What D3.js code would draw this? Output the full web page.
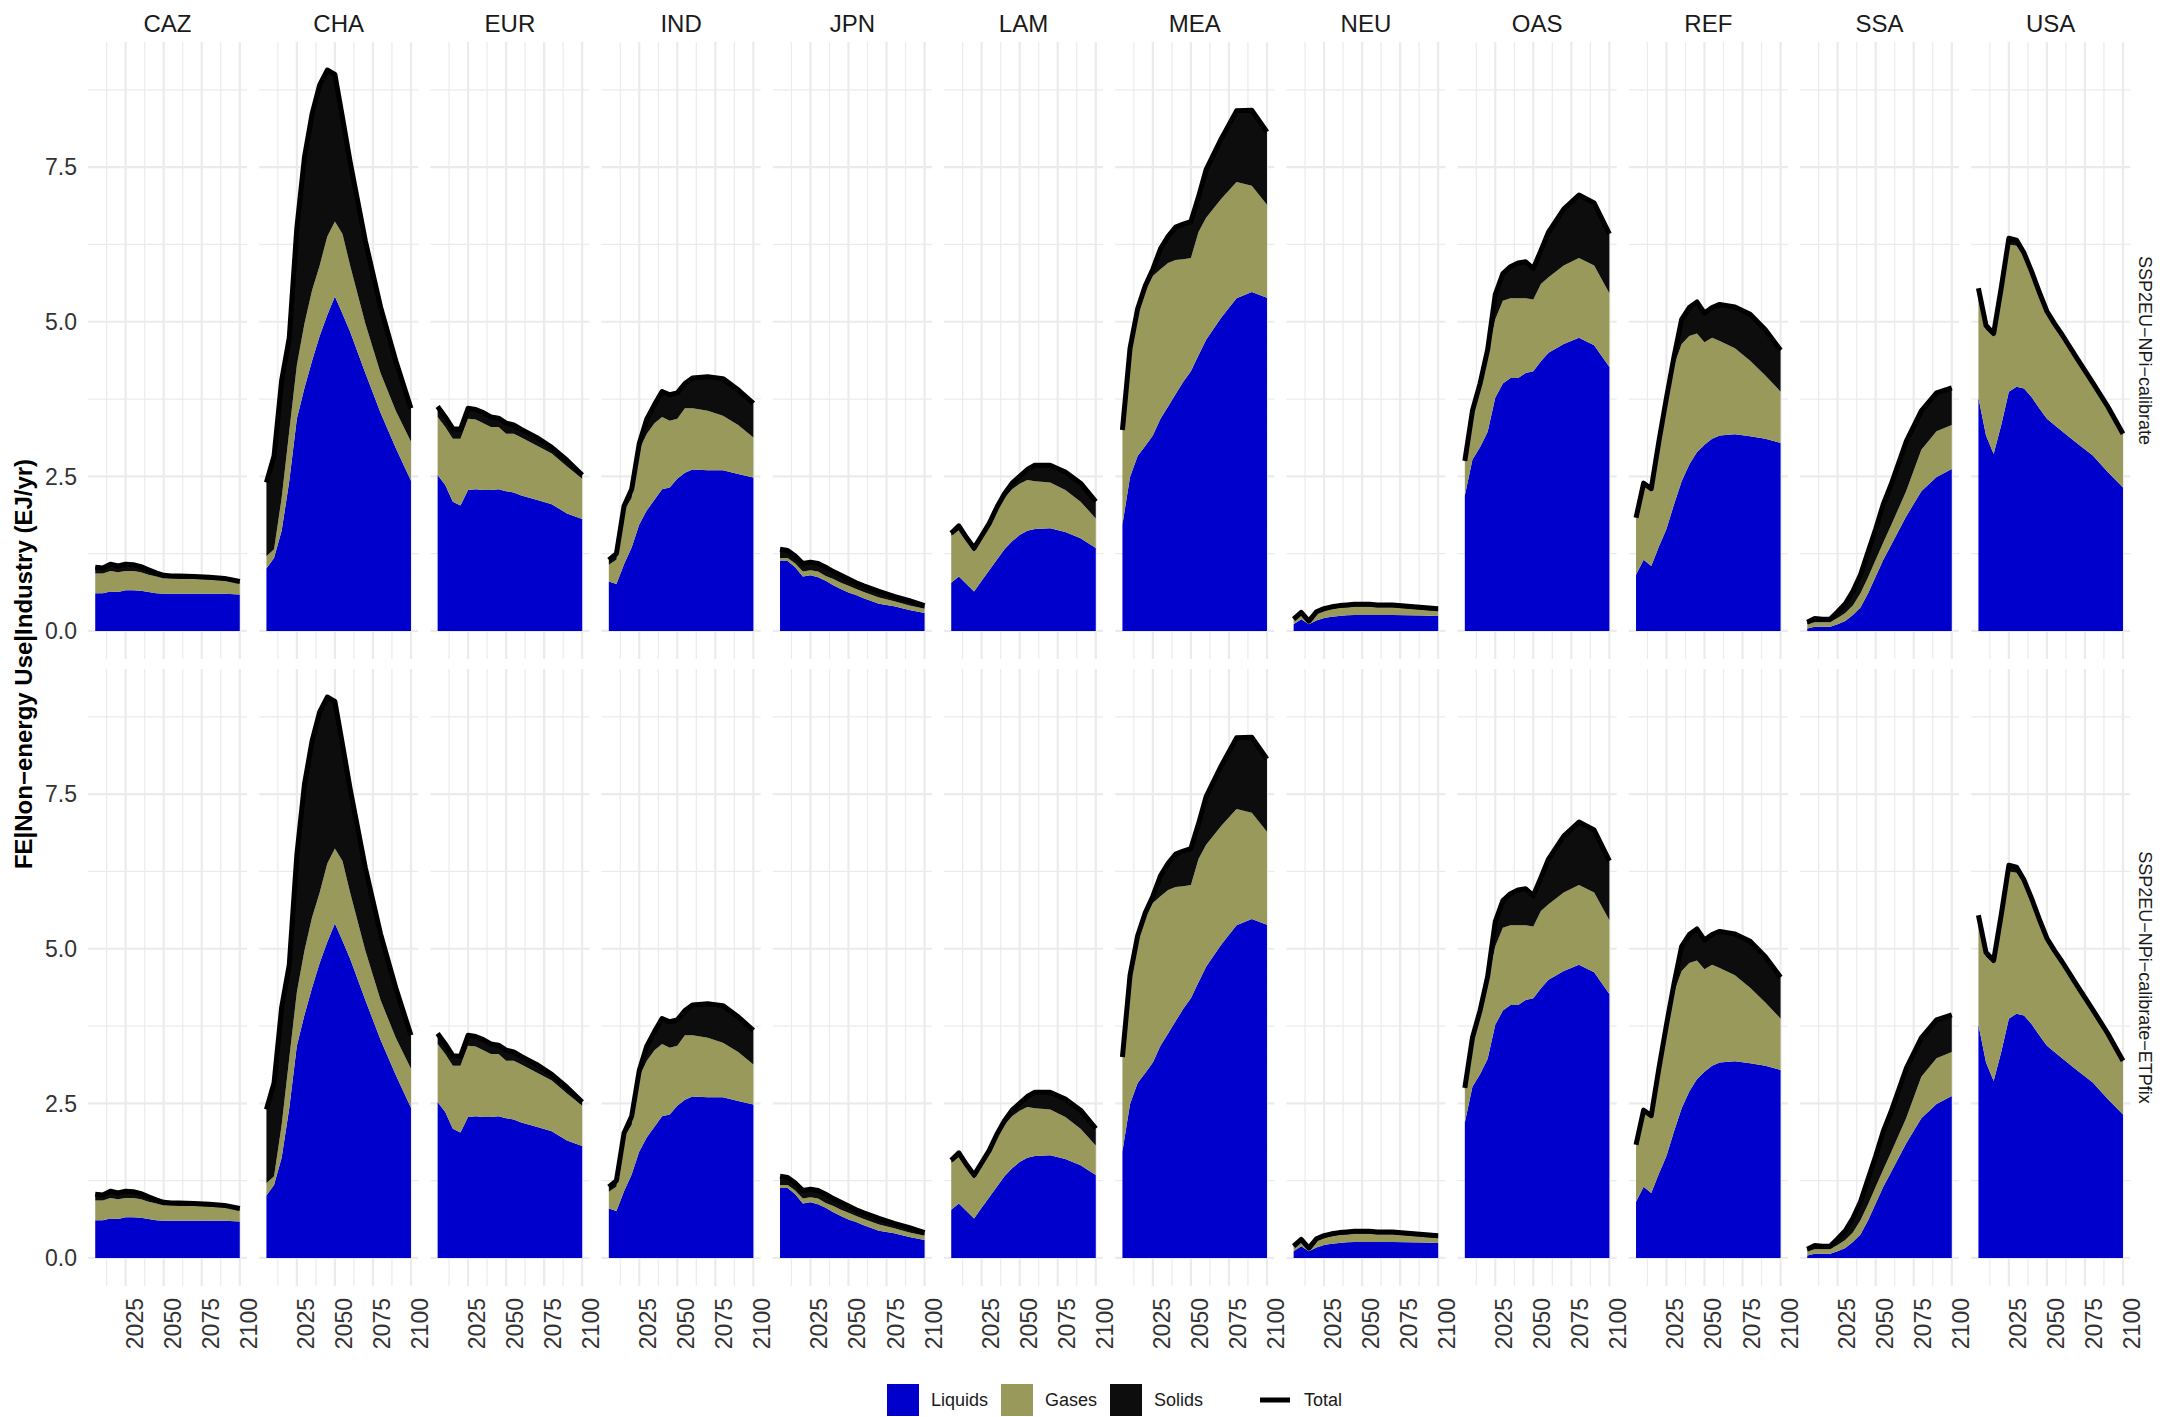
<!DOCTYPE html>
<html>
<head>
<meta charset="utf-8">
<script src="https://cdn.jsdelivr.net/npm/d3@7"></script>
<style>
  html, body { margin: 0; padding: 0; background: #ffffff; }
  svg { display: block; font-family: "Liberation Sans", Arial, sans-serif; }
</style>
</head>
<body>
<svg id="chart" width="2165" height="1417"></svg>
<script>
// ---------------- DATA ----------------
const years = [2005, 2010, 2015, 2020, 2025, 2030, 2035, 2040, 2045, 2050, 2055, 2060, 2070, 2080, 2090, 2100];
const regions = ["CAZ", "CHA", "EUR", "IND", "JPN", "LAM", "MEA", "NEU", "OAS", "REF", "SSA", "USA"];
const scenarios = ["SSP2EU\u2212NPi\u2212calibrate", "SSP2EU\u2212NPi\u2212calibrate\u2212ETPfix"];
const carriers = ["Liquids", "Gases", "Solids"];
const carrierColors = ["#0000cd", "#9a995c", "#0d0d0d"];
const yTicks = [0, 2.5, 5, 7.5];
const yMinorTicks = [1.25, 3.75, 6.25, 8.75];
const xTicks = [2025, 2050, 2075, 2100];
const xMinorTicks = [2012.5, 2037.5, 2062.5, 2087.5];
const yTitle = "FE|Non\u2212energy Use|Industry (EJ/yr)";

// EJ/yr, same values in both scenarios
const liquids = {
  CAZ: [0.61,0.61,0.64,0.63,0.66,0.66,0.65,0.63,0.61,0.60,0.60,0.60,0.60,0.60,0.60,0.59],
  CHA: [1.01,1.18,1.62,2.42,3.43,3.93,4.37,4.77,5.11,5.41,5.13,4.84,4.17,3.53,2.96,2.43],
  EUR: [2.52,2.36,2.09,2.03,2.28,2.29,2.28,2.28,2.29,2.26,2.24,2.19,2.12,2.05,1.90,1.81],
  IND: [0.80,0.76,1.08,1.35,1.72,1.95,2.12,2.29,2.32,2.46,2.56,2.61,2.60,2.60,2.54,2.48],
  JPN: [1.13,1.13,1.03,0.88,0.90,0.87,0.81,0.74,0.68,0.62,0.58,0.53,0.44,0.40,0.34,0.29],
  LAM: [0.78,0.88,0.76,0.64,0.81,0.98,1.15,1.32,1.45,1.55,1.62,1.65,1.66,1.60,1.50,1.34],
  MEA: [1.72,2.49,2.83,2.99,3.16,3.43,3.63,3.83,4.03,4.20,4.46,4.71,5.07,5.38,5.48,5.39],
  NEU: [0.11,0.19,0.11,0.17,0.21,0.23,0.24,0.255,0.26,0.26,0.26,0.26,0.26,0.255,0.25,0.24],
  OAS: [2.19,2.77,2.97,3.22,3.77,4.00,4.09,4.09,4.17,4.20,4.36,4.50,4.64,4.74,4.62,4.27],
  REF: [0.91,1.15,1.05,1.36,1.65,2.05,2.42,2.69,2.89,3.01,3.11,3.16,3.18,3.15,3.11,3.04],
  SSA: [0.04,0.07,0.07,0.07,0.11,0.16,0.26,0.38,0.61,0.88,1.15,1.38,1.85,2.26,2.49,2.62],
  USA: [3.77,3.16,2.86,3.33,3.87,3.95,3.92,3.78,3.60,3.43,3.33,3.23,3.03,2.84,2.57,2.32]
};
const gases = {
  CAZ: [0.32,0.32,0.33,0.32,0.31,0.31,0.30,0.28,0.27,0.25,0.25,0.24,0.24,0.23,0.22,0.18],
  CHA: [0.20,0.14,0.53,0.81,0.87,1.04,1.14,1.14,1.27,1.21,1.29,1.07,0.80,0.64,0.60,0.63],
  EUR: [0.94,0.94,1.02,1.08,1.15,1.13,1.08,1.02,1.01,0.93,0.95,0.94,0.88,0.82,0.76,0.65],
  IND: [0.27,0.39,0.87,0.80,1.21,1.24,1.24,1.17,1.08,0.97,1.04,0.99,0.96,0.88,0.79,0.65],
  JPN: [0.05,0.05,0.06,0.08,0.08,0.09,0.08,0.10,0.10,0.11,0.10,0.10,0.10,0.08,0.07,0.07],
  LAM: [0.76,0.75,0.69,0.64,0.66,0.70,0.79,0.83,0.84,0.83,0.82,0.77,0.74,0.68,0.59,0.48],
  MEA: [1.51,2.01,2.28,2.52,2.58,2.42,2.32,2.17,1.98,1.83,1.99,1.97,1.92,1.88,1.72,1.50],
  NEU: [0.06,0.08,0.03,0.11,0.11,0.12,0.13,0.125,0.13,0.13,0.13,0.12,0.12,0.105,0.09,0.08],
  OAS: [0.53,0.71,0.93,1.23,1.27,1.34,1.29,1.29,1.21,1.16,1.25,1.22,1.27,1.29,1.29,1.19],
  REF: [0.91,1.20,1.23,1.67,2.08,2.25,2.22,2.08,1.92,1.66,1.63,1.53,1.39,1.22,1.02,0.83],
  SSA: [0.07,0.07,0.07,0.07,0.10,0.13,0.15,0.23,0.26,0.27,0.28,0.32,0.41,0.67,0.74,0.71],
  USA: [1.67,1.71,1.90,2.18,2.38,2.28,2.13,1.96,1.82,1.70,1.59,1.51,1.34,1.14,1.03,0.85]
};
const solids = {
  CAZ: [0.10,0.09,0.11,0.10,0.11,0.10,0.09,0.08,0.06,0.05,0.04,0.05,0.04,0.04,0.03,0.03],
  CHA: [1.19,1.51,1.90,1.51,2.22,2.69,2.85,2.92,2.69,2.38,1.88,1.68,1.34,1.07,0.81,0.54],
  EUR: [0.17,0.16,0.16,0.15,0.17,0.16,0.17,0.16,0.14,0.17,0.14,0.13,0.13,0.10,0.10,0.06],
  IND: [0.08,0.10,0.07,0.14,0.10,0.24,0.30,0.41,0.42,0.42,0.40,0.49,0.55,0.60,0.57,0.55],
  JPN: [0.14,0.12,0.12,0.13,0.13,0.13,0.14,0.12,0.12,0.11,0.10,0.10,0.10,0.08,0.08,0.05],
  LAM: [0.04,0.07,0.06,0.06,0.07,0.06,0.06,0.07,0.10,0.12,0.17,0.26,0.28,0.29,0.30,0.27],
  MEA: [0.02,0.07,0.10,0.07,0.11,0.33,0.43,0.53,0.57,0.59,0.57,0.78,0.97,1.15,1.22,1.18],
  NEU: [0.02,0.03,0.02,0.03,0.04,0.04,0.04,0.04,0.04,0.04,0.04,0.04,0.04,0.04,0.04,0.04],
  OAS: [0.03,0.08,0.10,0.10,0.40,0.44,0.51,0.57,0.59,0.50,0.54,0.73,0.91,1.02,1.01,0.96],
  REF: [0.01,0.04,0.02,0.03,0.04,0.14,0.40,0.46,0.51,0.47,0.49,0.59,0.67,0.75,0.74,0.67],
  SSA: [0.03,0.06,0.05,0.05,0.10,0.15,0.23,0.30,0.41,0.50,0.62,0.66,0.80,0.63,0.62,0.60],
  USA: [0.10,0.07,0.05,0.04,0.10,0.09,0.06,0.07,0.06,0.04,0.05,0.05,0.03,0.04,0.03,0.02]
};
const seriesByCarrier = { Liquids: liquids, Gases: gases, Solids: solids };

// ---------------- LAYOUT ----------------
const panelLeft0 = 88, panelPitchX = 171.2, panelW = 159;
const panelTops = [42, 669], panelH = 617;
const fontTick = 23, fontStrip = 24, fontStripY = 18, fontTitle = 24, fontLegend = 18;

const svg = d3.select("#chart");
svg.append("rect").attr("width", 2165).attr("height", 1417).attr("fill", "#ffffff");

const xPad = 0.05 * (d3.max(years) - d3.min(years));
const x = d3.scaleLinear().domain([d3.min(years) - xPad, d3.max(years) + xPad]).range([0, panelW]);

const tables = {};
regions.forEach(r => {
  tables[r] = years.map((yr, i) => {
    const row = { year: yr };
    carriers.forEach(c => row[c] = seriesByCarrier[c][r][i]);
    row.Total = carriers.reduce((s, c) => s + row[c], 0);
    return row;
  });
});
const yMax = d3.max(regions, r => d3.max(tables[r], d => d.Total));
const y = d3.scaleLinear().domain([-0.05 * yMax, 1.05 * yMax]).range([panelH, 0]);

const stack = d3.stack().keys(carriers);
const area = d3.area().x(d => x(d.data.year)).y0(d => y(d[0])).y1(d => y(d[1]));
const totalLine = d3.line().x(d => x(d.year)).y(d => y(d.Total));
const color = d3.scaleOrdinal().domain(carriers).range(carrierColors);

scenarios.forEach((scen, si) => {
  regions.forEach((reg, ri) => {
    const g = svg.append("g")
      .attr("transform", `translate(${panelLeft0 + ri * panelPitchX},${panelTops[si]})`);
    // minor grid
    g.selectAll(".vminor").data(xMinorTicks).join("line")
      .attr("x1", d => x(d)).attr("x2", d => x(d)).attr("y1", 0).attr("y2", panelH)
      .attr("stroke", "#ebebeb").attr("stroke-width", 1.2);
    g.selectAll(".hminor").data(yMinorTicks).join("line")
      .attr("x1", 0).attr("x2", panelW).attr("y1", d => y(d)).attr("y2", d => y(d))
      .attr("stroke", "#ebebeb").attr("stroke-width", 1.2);
    // major grid
    g.selectAll(".vmajor").data(xTicks).join("line")
      .attr("x1", d => x(d)).attr("x2", d => x(d)).attr("y1", 0).attr("y2", panelH)
      .attr("stroke", "#ebebeb").attr("stroke-width", 2.2);
    g.selectAll(".hmajor").data(yTicks).join("line")
      .attr("x1", 0).attr("x2", panelW).attr("y1", d => y(d)).attr("y2", d => y(d))
      .attr("stroke", "#ebebeb").attr("stroke-width", 2.2);

    const stacked = stack(tables[reg]);
    g.selectAll(".area").data(stacked).join("path")
      .attr("d", area).attr("fill", d => color(d.key));
    g.append("path").datum(tables[reg])
      .attr("d", totalLine).attr("fill", "none").attr("stroke", "#000")
      .attr("stroke-width", 5).attr("stroke-linejoin", "round").attr("stroke-linecap", "butt");

    // top strip labels
    if (si === 0) {
      svg.append("text")
        .attr("x", panelLeft0 + ri * panelPitchX + panelW / 2).attr("y", 32)
        .attr("text-anchor", "middle").attr("font-size", fontStrip).attr("fill", "#1a1a1a")
        .text(reg);
    }
    // y axis labels
    if (ri === 0) {
      svg.append("g").selectAll("text").data(yTicks).join("text")
        .attr("x", 77).attr("y", d => panelTops[si] + y(d))
        .attr("dy", "0.36em").attr("text-anchor", "end")
        .attr("font-size", fontTick).attr("fill", "#333")
        .text(d => d3.format(".1f")(d));
    }
    // x axis labels (bottom row only)
    if (si === scenarios.length - 1) {
      const bx = panelLeft0 + ri * panelPitchX;
      svg.append("g").selectAll("text").data(xTicks).join("text")
        .attr("transform", d => `translate(${bx + x(d) + 17},${panelTops[si] + panelH + 12}) rotate(-90)`)
        .attr("text-anchor", "end")
        .attr("font-size", fontTick).attr("fill", "#333")
        .text(d => d);
    }
  });
  // right strip labels
  const cy = panelTops[si] + panelH / 2;
  svg.append("text")
    .attr("transform", `translate(2139,${cy}) rotate(90)`)
    .attr("text-anchor", "middle").attr("font-size", fontStripY).attr("fill", "#1a1a1a")
    .text(scen);
});

// y title
svg.append("text")
  .attr("transform", `translate(32,${(panelTops[0] + panelTops[1] + panelH) / 2}) rotate(-90)`)
  .attr("text-anchor", "middle").attr("font-size", fontTitle).attr("font-weight", "bold").attr("fill", "#000")
  .text(yTitle);

// legend
const legendItems = [
  { name: "Liquids", type: "box", keyX: 887, textX: 931 },
  { name: "Gases", type: "box", keyX: 1001, textX: 1045 },
  { name: "Solids", type: "box", keyX: 1110, textX: 1154 },
  { name: "Total", type: "line", keyX: 1260, textX: 1304 }
];
const lg = svg.append("g");
legendItems.forEach(it => {
  if (it.type === "box") {
    lg.append("rect").attr("x", it.keyX).attr("y", 1384).attr("width", 32).attr("height", 32)
      .attr("fill", color(it.name));
  } else {
    lg.append("line").attr("x1", it.keyX).attr("x2", it.keyX + 30).attr("y1", 1400).attr("y2", 1400)
      .attr("stroke", "#000").attr("stroke-width", 5);
  }
  lg.append("text").attr("x", it.textX).attr("y", 1400).attr("dy", "0.35em")
    .attr("font-size", fontLegend).attr("fill", "#1a1a1a").text(it.name);
});
</script>
</body>
</html>
